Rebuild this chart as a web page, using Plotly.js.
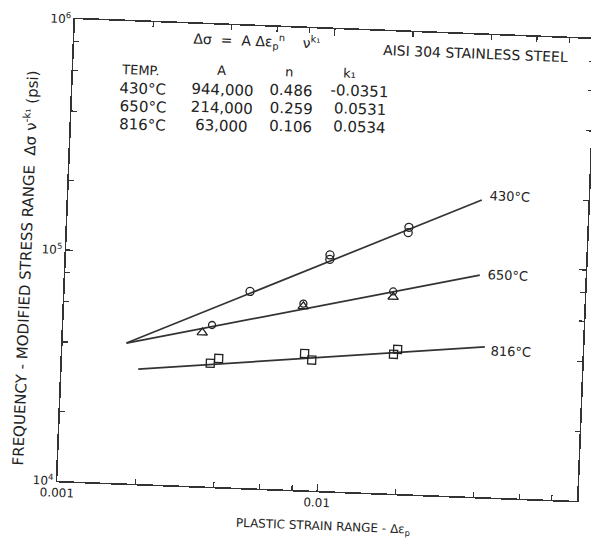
<!DOCTYPE html>
<html><head><meta charset="utf-8">
<script src="https://cdn.plot.ly/plotly-3.0.1.min.js"></script>
<style>
html,body{margin:0;padding:0;background:#fff;overflow:hidden;width:591px;height:542px}
#chart{width:591px;height:542px;transform:rotate(2.2deg);transform-origin:326px 260px;}
</style></head><body><div id="chart"></div>
<script>
// ---- data (strain range, stress range in psi) ----
const strain430 = [0.00516, 0.01034, 0.01034, 0.0206, 0.0205];
const stress430 = [71000, 105300, 100700, 143000, 135500];
const strain650Tri = [0.00343, 0.00831, 0.01835];
const stress650Tri = [46300, 62500, 71000];
const strain650Circ = [0.00373, 0.00831, 0.01832];
const stress650Circ = [50100, 64200, 75000];
const strain816 = [0.00372, 0.00400, 0.00854, 0.00912, 0.01877, 0.01943];
const stress816 = [34200, 36000, 39100, 36700, 40100, 42200];
const fitStrain430 = [0.00176, 0.0389];
const fitStress430 = [40500, 193000];
const fitStrain650 = [0.00176, 0.0392];
const fitStress650 = [40500, 91300];
const fitStrain816 = [0.00197, 0.0420];
const fitStress816 = [31400, 44700];
const xTickVals = [0.001, 0.01, 0.1];
const xTickText = ['0.001', '0.01', '0.1'];
const xMinorVals = [0.002, 0.004, 0.006, 0.008, 0.02, 0.04, 0.06, 0.08];
const yTickVals = [1e4, 1e5, 1e6];
const yTickText = ['10<sup>4</sup>', '10<sup>5</sup>', '10<sup>6</sup>'];
const yMinorVals = [2e4, 4e4, 6e4, 8e4, 2e5, 4e5, 6e5, 8e5];
const tableHeader = ['TEMP.', 'A', 'n', 'k₁'];
const tableRows = [
  ['430°C', '944,000', '0.486', '-0.0351'],
  ['650°C', '214,000', '0.259', '0.0531'],
  ['816°C', '63,000', '0.106', '0.0534']
];
const lineLabels = ['430°C', '650°C', '816°C'];

// ---- layout geometry (scan is slightly rotated) ----
const ROT = 2.2, OX = 326, OY = 260, ML = 66, MT = 29, PW = 520, PH = 462;
function P(px, py) {
  const a = ROT * Math.PI / 180, c = Math.cos(a), s = Math.sin(a);
  const dx = px - OX, dy = py - OY;
  const ux = OX + dx * c + dy * s, uy = OY - dx * s + dy * c;
  return [(ux - ML) / PW, (MT + PH - uy) / PH];
}
const INK = '#222222';
const FONT = 'DejaVu Sans, Liberation Sans, sans-serif';
function ann(text, px, py, size, extra) {
  const p = P(px, py);
  return Object.assign({text: text, x: p[0], y: p[1], xref: 'paper', yref: 'paper',
    showarrow: false, xanchor: 'center', yanchor: 'middle',
    font: {family: FONT, size: size, color: INK}}, extra || {});
}

const lineStyle = {color: '#333333', width: 1.7};
const mk = (sym, size) => ({symbol: sym, size: size, color: INK, line: {color: INK, width: 1.3}});
const traces = [
  {x: fitStrain430, y: fitStress430, mode: 'lines', line: lineStyle},
  {x: fitStrain650, y: fitStress650, mode: 'lines', line: lineStyle},
  {x: fitStrain816, y: fitStress816, mode: 'lines', line: lineStyle},
  {x: strain430, y: stress430, mode: 'markers', marker: mk('circle-open', 8)},
  {x: strain650Tri, y: stress650Tri, mode: 'markers', marker: mk('triangle-up-open', 9)},
  {x: strain650Circ, y: stress650Circ, mode: 'markers', marker: mk('circle-open', 7)},
  {x: strain816, y: stress816, mode: 'markers', marker: mk('square-open', 8)}
];
traces.forEach(t => { t.showlegend = false; t.hoverinfo = 'skip'; });

const annotations = [];
annotations.push(ann('Δσ  =  A Δε<sub>p</sub><sup>n</sup>    ν<sup>k₁</sup>', 257, 41, 14));
annotations.push(ann('AISI 304 STAINLESS STEEL', 476, 54, 14));
const colX = [140, 222, 289, 350];
const hdrY = [70, 70, 72, 73];
tableHeader.forEach((h, i) => annotations.push(ann(h, colX[i], hdrY[i], 13)));
const rowY = [89, 107, 125];
const cellX = [143, 222, 291, 360];
tableRows.forEach((r, j) => r.forEach((c, i) => annotations.push(ann(c, cellX[i], rowY[j] + i * 0.6, 15))));
const labPos = [[510, 197], [508, 275], [511, 352]];
lineLabels.forEach((l, i) => annotations.push(ann(l, labPos[i][0], labPos[i][1], 13)));
annotations.push(ann('FREQUENCY - MODIFIED STRESS RANGE  Δσ ν<sup>-k₁</sup> (psi)', 24, 268, 15, {textangle: -90}));
annotations.push(ann('PLASTIC STRAIN RANGE - Δε<sub>p</sub>', 323, 527, 12));

const axisCommon = {
  type: 'log', showgrid: false, zeroline: false, showline: true, linecolor: '#333', linewidth: 1.6,
  mirror: 'ticks', ticks: 'inside', ticklen: 7, tickwidth: 1.3, tickcolor: '#333',
  tickmode: 'array', tickfont: {family: FONT, size: 12, color: INK}
};
const minorCommon = {tickmode: 'array', ticks: 'inside', ticklen: 5, tickwidth: 1.2, tickcolor: '#333', showgrid: false};
const layout = {
  width: 591, height: 542, paper_bgcolor: '#fff', plot_bgcolor: '#fff',
  margin: {l: ML, r: 591 - ML - PW, t: MT, b: 542 - MT - PH, pad: 0},
  xaxis: Object.assign({}, axisCommon, {range: [-3, -1], tickvals: xTickVals, ticktext: xTickText,
    minor: Object.assign({}, minorCommon, {tickvals: xMinorVals})}),
  yaxis: Object.assign({}, axisCommon, {range: [4, 6], tickvals: yTickVals, ticktext: yTickText,
    minor: Object.assign({}, minorCommon, {tickvals: yMinorVals})}),
  annotations: annotations
};
Plotly.newPlot('chart', traces, layout, {staticPlot: true, displayModeBar: false});
</script></body></html>
